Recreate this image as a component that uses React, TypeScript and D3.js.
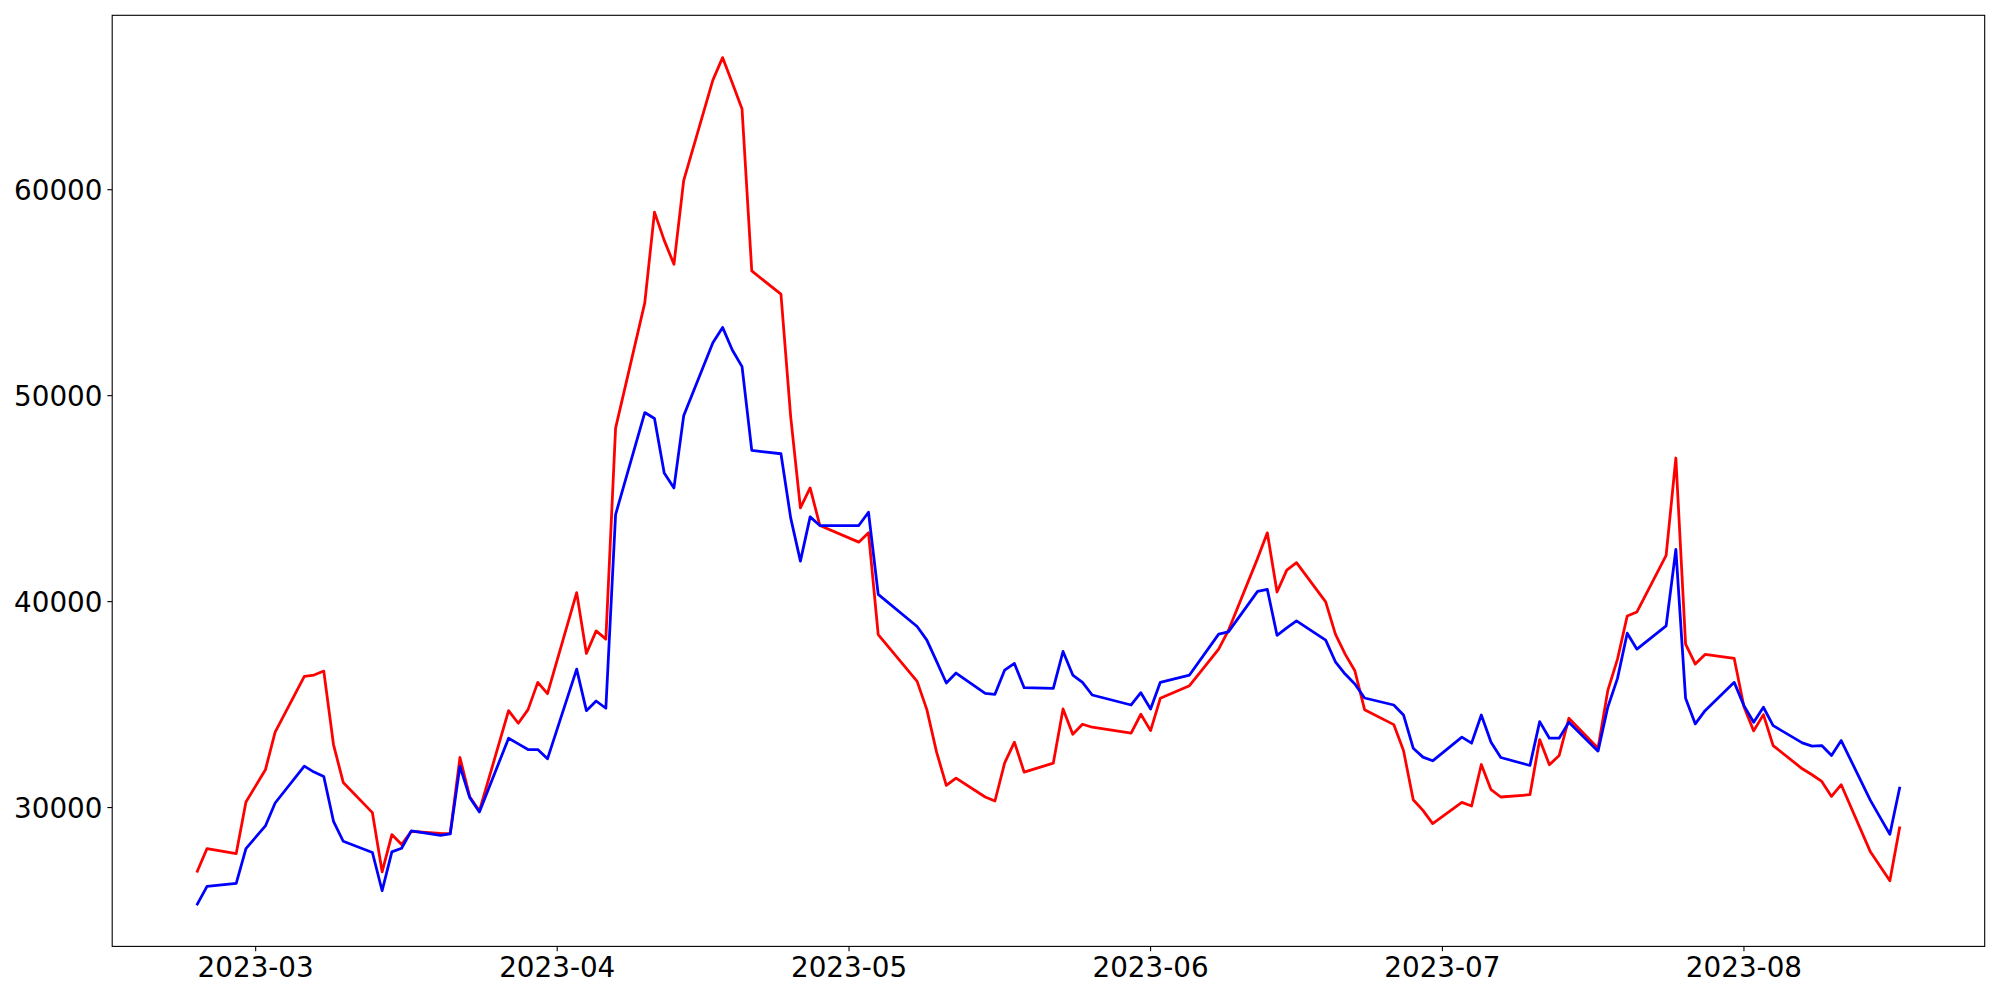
import React, { useEffect } from "react";
import * as d3 from "d3";

const dates: string[] = [
  "2023-02-23","2023-02-24","2023-02-27","2023-02-28","2023-03-02","2023-03-03",
  "2023-03-06","2023-03-07","2023-03-08","2023-03-09","2023-03-10",
  "2023-03-13","2023-03-14","2023-03-15","2023-03-16","2023-03-17",
  "2023-03-20","2023-03-21","2023-03-22","2023-03-23","2023-03-24",
  "2023-03-27","2023-03-28","2023-03-29","2023-03-30","2023-03-31",
  "2023-04-03","2023-04-04","2023-04-05","2023-04-06","2023-04-07",
  "2023-04-10","2023-04-11","2023-04-12","2023-04-13","2023-04-14",
  "2023-04-17","2023-04-18","2023-04-19","2023-04-20","2023-04-21",
  "2023-04-24","2023-04-25","2023-04-26","2023-04-27","2023-04-28",
  "2023-05-02","2023-05-03","2023-05-04",
  "2023-05-08","2023-05-09","2023-05-10","2023-05-11","2023-05-12",
  "2023-05-15","2023-05-16","2023-05-17","2023-05-18","2023-05-19",
  "2023-05-22","2023-05-23","2023-05-24","2023-05-25","2023-05-26",
  "2023-05-30","2023-05-31","2023-06-01","2023-06-02",
  "2023-06-05","2023-06-08","2023-06-09",
  "2023-06-12","2023-06-13","2023-06-14","2023-06-15","2023-06-16",
  "2023-06-19","2023-06-20","2023-06-21","2023-06-22","2023-06-23",
  "2023-06-26","2023-06-27","2023-06-28","2023-06-29","2023-06-30",
  "2023-07-03","2023-07-04","2023-07-05","2023-07-06","2023-07-07",
  "2023-07-10","2023-07-11","2023-07-12","2023-07-13","2023-07-14",
  "2023-07-17","2023-07-18","2023-07-19","2023-07-20","2023-07-21",
  "2023-07-24","2023-07-25","2023-07-26","2023-07-27","2023-07-28",
  "2023-07-31","2023-08-01","2023-08-02","2023-08-03","2023-08-04",
  "2023-08-07","2023-08-08","2023-08-09","2023-08-10","2023-08-11",
  "2023-08-14","2023-08-15","2023-08-16","2023-08-17",
];

const redValues: number[] = [
  26911, 28010, 27768, 30271, 31835, 33660,
  36370, 36434, 36627, 33060, 31220,
  29753, 26882, 28688, 28204, 28848,
  28750, 28740, 32430, 30528, 29835,
  34706, 34095, 34755, 36080, 35528,
  40437, 37484, 38578, 38177, 48425,
  54505, 58911, 57540, 56379, 60445,
  65320, 66414, 65187, 63916, 56056,
  54927, 48987, 44552, 45520, 43695,
  42888, 43340, 38400,
  36128, 34755, 32692, 31075, 31433,
  30513, 30320, 32174, 33175, 31723,
  32159, 34788, 33563, 34047, 33902,
  33611, 34531, 33737, 35306,
  35916, 37692, 38600,
  42100, 43340, 40467, 41532, 41890,
  39984, 38419, 37450, 36642, 34755,
  34028, 32769, 30382, 29864, 29221,
  30252, 30077, 32091, 30866, 30513,
  30624, 33302, 32077, 32527, 34337,
  32885, 35674, 37208, 39305, 39498,
  42243, 46973, 37934, 36966, 37436,
  37242, 34900, 33723, 34512, 33011,
  31883, 31593, 31268, 30542, 31109,
  27851, 27154, 26447, 29012,
];

const blueValues: number[] = [
  25314, 26171, 26316, 28010, 29109, 30222,
  32014, 31723, 31510, 29332, 28364,
  27817, 25962, 27850, 28025, 28867,
  28654, 28720, 32014, 30494, 29787,
  33369, 33093, 32818, 32818, 32367,
  36724, 34706, 35175, 34822, 44228,
  49180, 48890, 46246, 45520, 49020,
  52569, 53315, 52215, 51408, 47341,
  47180, 44068, 41967, 44116, 43695,
  43695, 44340, 40355,
  38791, 38128, 37100, 36046, 36531,
  35548, 35499, 36676, 37000, 35819,
  35790, 37581, 36434, 36080, 35465,
  34981, 35577, 34788, 36080,
  36434, 38419, 38530,
  40500, 40597, 38364, 38724, 39063,
  38128, 37078, 36482, 35998, 35320,
  34981, 34497, 32885, 32449, 32270,
  33418, 33127, 34497, 33176, 32431,
  32044, 34173, 33369, 33369, 34144,
  32740, 34870, 36274, 38467, 37692,
  38821, 42533, 35306, 34062, 34706,
  36080, 34950, 34144, 34870, 33979,
  33142, 32982, 33011, 32527, 33253,
  30349, 29526, 28703, 30949,
];

const yTickValues: number[] = [30000, 40000, 50000, 60000];
const xTickDates: string[] = ["2023-03-01", "2023-04-01", "2023-05-01", "2023-06-01", "2023-07-01", "2023-08-01"];

const W = 2000;
const H = 1000;
const M = { left: 112.2, right: 1984.7, top: 15.3, bottom: 946.4 };
const FONT = "'DejaVu Sans', sans-serif";
const FS = 27.8;

export default function App() {
  useEffect(() => {
    document.body.style.margin = "0";
  }, []);

  const parse = d3.utcParse("%Y-%m-%d");
  const xs = dates.map((d) => parse(d) as Date);
  const [x0, x1] = d3.extent(xs) as [Date, Date];
  const xPad = (x1.getTime() - x0.getTime()) * 0.05;
  const x = d3
    .scaleUtc()
    .domain([new Date(x0.getTime() - xPad), new Date(x1.getTime() + xPad)])
    .range([M.left, M.right]);

  const all = redValues.concat(blueValues);
  const yMin = d3.min(all) as number;
  const yMax = d3.max(all) as number;
  const yPad = (yMax - yMin) * 0.05;
  const y = d3.scaleLinear().domain([yMin - yPad, yMax + yPad]).range([M.bottom, M.top]);

  const line = d3
    .line<number>()
    .x((_, i) => x(xs[i]))
    .y((v) => y(v));

  const fmt = d3.utcFormat("%Y-%m");
  const tickLen = 4.86;
  const LW = 2.78;

  return (
    <svg width={W} height={H} style={{ display: "block", background: "#fff" }} fontFamily={FONT}>
      <rect x={0} y={0} width={W} height={H} fill="#fff" />
      <path d={line(redValues) || ""} fill="none" stroke="#ff0000" strokeWidth={LW} strokeLinejoin="round" strokeLinecap="square" />
      <path d={line(blueValues) || ""} fill="none" stroke="#0000ff" strokeWidth={LW} strokeLinejoin="round" strokeLinecap="square" />
      <rect
        x={M.left}
        y={M.top}
        width={M.right - M.left}
        height={M.bottom - M.top}
        fill="none"
        stroke="#000"
        strokeWidth={1.1}
      />
      {yTickValues.map((v) => (
        <g key={v}>
          <line x1={M.left - tickLen} x2={M.left} y1={y(v)} y2={y(v)} stroke="#000" strokeWidth={1.1} />
          <text x={M.left - tickLen - 4.86} y={y(v) + 10} textAnchor="end" fontSize={FS} fill="#000">
            {String(v)}
          </text>
        </g>
      ))}
      {xTickDates.map((s) => {
        const d = parse(s) as Date;
        const px = x(d);
        return (
          <g key={s}>
            <line x1={px} x2={px} y1={M.bottom} y2={M.bottom + tickLen} stroke="#000" strokeWidth={1.1} />
            <text x={px} y={M.bottom + tickLen + 4.86 + 21} textAnchor="middle" fontSize={FS} fill="#000">
              {fmt(d)}
            </text>
          </g>
        );
      })}
    </svg>
  );
}
